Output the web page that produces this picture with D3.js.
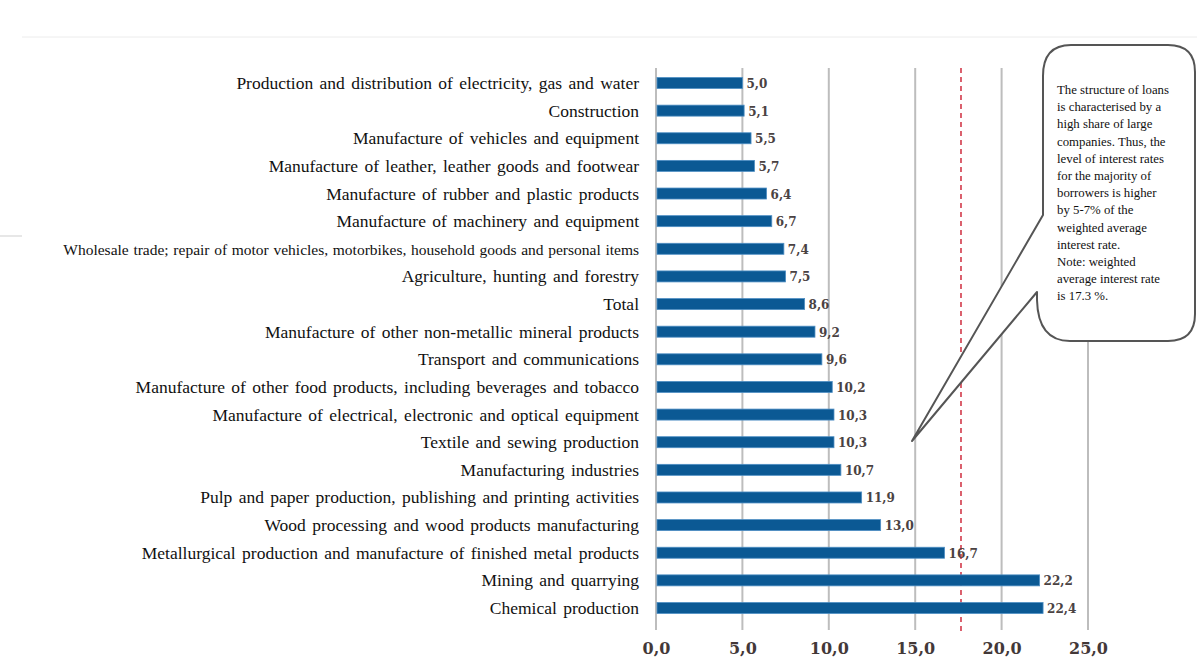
<!DOCTYPE html>
<html>
<head>
<meta charset="utf-8">
<script src="https://cdn.jsdelivr.net/npm/d3@7"></script>
<style>
  body { margin: 0; background: #fff; }
  svg { display: block; }
</style>
</head>
<body>
<script>
// categories, top to bottom
var categories = [
    "Production and distribution of electricity, gas and water",
    "Construction",
    "Manufacture of vehicles and equipment",
    "Manufacture of leather, leather goods and footwear",
    "Manufacture of rubber and plastic products",
    "Manufacture of machinery and equipment",
    "Wholesale trade; repair of motor vehicles, motorbikes, household goods and personal items",
    "Agriculture, hunting and forestry",
    "Total",
    "Manufacture of other non-metallic mineral products",
    "Transport and communications",
    "Manufacture of other food products, including beverages and tobacco",
    "Manufacture of electrical, electronic and optical equipment",
    "Textile and sewing production",
    "Manufacturing industries",
    "Pulp and paper production, publishing and printing activities",
    "Wood processing and wood products manufacturing",
    "Metallurgical production and manufacture of finished metal products",
    "Mining and quarrying",
    "Chemical production"
];
var values = [5.0, 5.1, 5.5, 5.7, 6.4, 6.7, 7.4, 7.5, 8.6, 9.2, 9.6, 10.2, 10.3, 10.3, 10.7, 11.9, 13.0, 16.7, 22.2, 22.4];
var tickValues = [0, 5, 10, 15, 20, 25];
var refLine = 17.65;
var noteLines = [
    "The structure of loans",
    "is characterised by a",
    "high share of large",
    "companies. Thus, the",
    "level of interest rates",
    "for the majority of",
    "borrowers is higher",
    "by 5-7% of the",
    "weighted average",
    "interest rate.",
    "Note: weighted",
    "average interest rate",
    "is 17.3 %."
];

var width = 1197, height = 670;
var fmt = function(v) { return d3.format(".1f")(v).replace(".", ","); };

var svg = d3.select("body").append("svg")
    .attr("width", width)
    .attr("height", height);

// page decorations
svg.append("line")
    .attr("x1", 22).attr("x2", width).attr("y1", 37).attr("y2", 37)
    .attr("stroke", "#ececec").attr("stroke-width", 1);
svg.append("line")
    .attr("x1", 0).attr("x2", 22).attr("y1", 236).attr("y2", 236)
    .attr("stroke", "#cfcfcf").attr("stroke-width", 1);

var x = d3.scaleLinear().domain([0, 25]).range([656, 1088]);
var y = d3.scalePoint().domain(categories).range([83, 608]);
var barH = 11;
var gridTop = 68, gridBottom = 630;

// gridlines
svg.append("g").selectAll("line")
    .data(tickValues)
    .enter().append("line")
    .attr("x1", function(d) { return x(d); })
    .attr("x2", function(d) { return x(d); })
    .attr("y1", gridTop)
    .attr("y2", gridBottom)
    .attr("stroke", "#bdbdbd")
    .attr("stroke-width", 2);

// average line
svg.append("line")
    .attr("x1", x(refLine)).attr("x2", x(refLine))
    .attr("y1", gridTop).attr("y2", 632)
    .attr("stroke", "#d23a4a")
    .attr("stroke-width", 1.6)
    .attr("stroke-dasharray", "5,4");

// bars
svg.append("g").selectAll("rect")
    .data(values)
    .enter().append("rect")
    .attr("x", x(0) + 1)
    .attr("y", function(d, i) { return y(categories[i]) - barH / 2; })
    .attr("width", function(d) { return x(d) - x(0) - 1; })
    .attr("height", barH)
    .attr("fill", "#0b5994")
    .attr("stroke", "#4f8fc4")
    .attr("stroke-width", 0.8);

// value labels
svg.append("g").selectAll("text")
    .data(values)
    .enter().append("text")
    .attr("x", function(d) { return x(d) + 4; })
    .attr("y", function(d, i) { return y(categories[i]) + 5; })
    .attr("font-family", "DejaVu Serif, serif")
    .attr("font-size", "12px")
    .attr("font-weight", "bold")
    .attr("fill", "#4a4242")
    .text(function(d) { return fmt(d); });

// category labels
svg.append("g").selectAll("text")
    .data(categories)
    .enter().append("text")
    .attr("x", 639)
    .attr("y", function(d) { return y(d) + 6; })
    .attr("text-anchor", "end")
    .attr("font-family", "Liberation Serif, Times New Roman, serif")
    .attr("font-size", function(d) { return d.length > 80 ? "15.5px" : "17.5px"; })
    .attr("word-spacing", function(d) { return d.length > 80 ? "0.8px" : "2px"; })
    .attr("fill", "#111")
    .text(function(d) { return d; });

// x axis
var axis = svg.append("g")
    .attr("transform", "translate(0," + gridBottom + ")")
    .call(d3.axisBottom(x).tickValues(tickValues).tickSize(0).tickPadding(13).tickFormat(fmt));
axis.select(".domain").remove();
axis.selectAll("text")
    .attr("font-family", "DejaVu Serif, serif")
    .attr("font-size", "16px")
    .attr("font-weight", "bold")
    .attr("fill", "#433838");

// callout bubble
var p = d3.path();
p.moveTo(1071, 45);
p.lineTo(1168, 45);
p.quadraticCurveTo(1195, 45, 1195, 72);
p.lineTo(1195, 314);
p.quadraticCurveTo(1195, 341, 1168, 341);
p.lineTo(1070, 341);
p.quadraticCurveTo(1038, 341, 1037, 300);
p.lineTo(1037, 292);
p.lineTo(912, 441);
p.lineTo(1043, 215);
p.lineTo(1043, 76);
p.quadraticCurveTo(1043, 45, 1071, 45);
p.closePath();
svg.append("path")
    .attr("d", p.toString())
    .attr("fill", "#fff")
    .attr("stroke", "#555")
    .attr("stroke-width", 2)
    .attr("stroke-linejoin", "round");

svg.append("g").selectAll("text")
    .data(noteLines)
    .enter().append("text")
    .attr("x", 1057)
    .attr("y", function(d, i) { return 94 + i * 17.2; })
    .attr("font-family", "Liberation Serif, Times New Roman, serif")
    .attr("font-size", "12.8px")
    .attr("fill", "#111")
    .text(function(d) { return d; });
</script>
</body>
</html>
